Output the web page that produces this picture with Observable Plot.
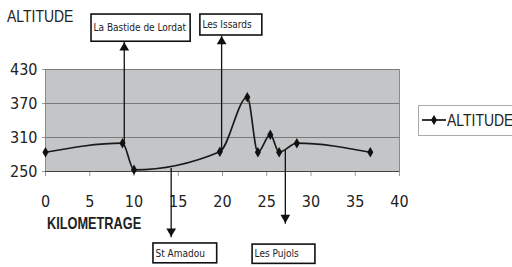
<!DOCTYPE html>
<html><head><meta charset="utf-8">
<script src="https://cdn.jsdelivr.net/npm/d3@7"></script>
<script src="https://cdn.jsdelivr.net/npm/@observablehq/plot@0.6"></script>
<style>
body{margin:0;background:#fff;}
#wrap{position:relative;width:512px;height:267px;overflow:hidden;font-family:"Liberation Sans",Arial,sans-serif;color:#222;}
#wrap > svg{position:absolute;left:0;top:0;}
.ov{position:absolute;white-space:nowrap;transform-origin:0 0;}
#ytitle{left:7px;top:7px;font-size:17px;transform:scaleX(0.82);}
#xtitle{left:47px;top:214px;font-size:17px;font-weight:bold;transform:scaleX(0.75);}
#legend{left:418px;top:105px;width:100px;height:29px;border:1px solid #aaa;background:#fff;}
#legend svg{position:absolute;left:2px;top:7px;}
#legend span{position:absolute;left:28px;top:5px;font-size:17px;transform:scaleX(0.82);transform-origin:0 0;}
g[aria-label="x-axis tick"], g[aria-label="y-axis tick"]{stroke:#999;}
</style>
</head><body>
<div id="wrap">
  <div class="ov" id="ytitle">ALTITUDE</div>
  <div class="ov" id="xtitle">KILOMETRAGE</div>
  <div class="ov" id="legend"><svg width="26" height="14"><line x1="1" y1="7" x2="25" y2="7" stroke="#222" stroke-width="1.8"/><path d="M13 2 L16 7 L13 12 L10 7 Z" fill="#111"/></svg><span>ALTITUDE</span></div>
</div>
<script>
// Series
const km = [0, 8.7, 10, 19.7, 22.8, 24, 25.4, 26.4, 28.4, 36.7];
const altitude = [284, 300, 253, 285, 381, 284, 315, 284, 300, 284];
const xTicks = [0, 5, 10, 15, 20, 25, 30, 35, 40];
const yTicks = [250, 310, 370, 430];
const gridLines = [310, 370, 430];

// Annotations (place names)
const placeNames = ["La Bastide de Lordat", "Les Issards", "St Amadou", "Les Pujols"];
const placeKm = [8.9, 19.9, 14.2, 27.1];
const placeFrom = [300, 285, 256, 288];
const placeTip = [479, 490, 134, 158];
const placeUp = [true, true, false, false];
const boxX1 = [5.2, 17.5, 12.2, 23.4];
const boxX2 = [16.4, 24.5, 19.4, 30.5];
const boxTop = [527, 527, 123, 121];
const boxBottom = [479, 490, 88, 87];

const data = km.map((k, i) => ({km: k, alt: altitude[i]}));
const ann = placeNames.map((n, i) => ({
  name: n, km: placeKm[i], from: placeFrom[i], tip: placeTip[i], up: placeUp[i],
  x1: boxX1[i], x2: boxX2[i], y1: boxBottom[i], y2: boxTop[i], ym: (boxTop[i] + boxBottom[i]) / 2
}));

const chart = Plot.plot({
  width: 512, height: 267,
  marginLeft: 45, marginRight: 113, marginTop: 69, marginBottom: 96,
  style: {fontFamily: '"DejaVu Sans Condensed","Liberation Sans",sans-serif', fontSize: "16px", color: "#222", background: "transparent"},
  x: {domain: [0, 40], ticks: xTicks, tickSize: 5, tickPadding: 19, label: null},
  y: {domain: [250, 430], ticks: yTicks, tickSize: 3, tickPadding: 5, label: null},
  marks: [
    Plot.frame({fill: "#c3c5c7", stroke: "#8a8a8a"}),
    Plot.ruleY(gridLines, {stroke: "#7a7a7a", strokeWidth: 1}),
    Plot.ruleY([250], {stroke: "#444", strokeWidth: 1.2}),
    Plot.line(data, {x: "km", y: "alt", curve: "monotone-x", stroke: "#1a1a1a", strokeWidth: 1.7}),
    Plot.dot(data, {x: "km", y: "alt", symbol: "diamond", r: 3.2, fill: "#111", stroke: "none"}),
    Plot.link(ann, {x1: "km", x2: "km", y1: "from", y2: "tip", stroke: "#111", strokeWidth: 1.3}),
    Plot.dot(ann.filter(d => d.up), {x: "km", y: "tip", symbol: "triangle", r: 3.6, fill: "#111", stroke: "none", dy: 6}),
    Plot.dot(ann.filter(d => !d.up), {x: "km", y: "tip", symbol: "triangle", r: 3.6, fill: "#111", stroke: "none", rotate: 180, dy: -6}),
    Plot.rect(ann, {x1: "x1", x2: "x2", y1: "y1", y2: "y2", fill: "white", stroke: "#111", strokeWidth: 1.6}),
    Plot.text(ann, {x: "x1", y: "ym", text: "name", textAnchor: "start", dx: 2, fontSize: 10, fill: "#222"})
  ]
});
document.getElementById("wrap").prepend(chart);
</script>
</body></html>
